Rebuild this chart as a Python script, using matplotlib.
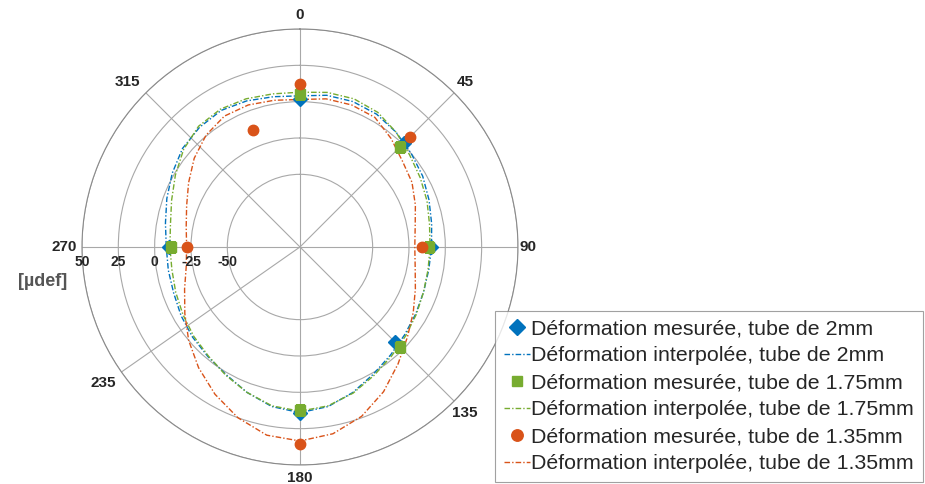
import matplotlib.pyplot as plt
import numpy as np

plt.rcParams['font.family'] = 'Liberation Sans'

# angles (deg, clockwise from top) where the interpolated curves were read
curve_ang = [0, 10, 20, 30, 40, 50, 60, 70, 80, 90, 100, 110,
             120, 130, 140, 150, 160, 170, 180, 190, 200, 210, 220, 230,
             240, 250, 260, 270, 280, 290, 300, 310, 320, 330, 340, 350]
interp_2mm = [4, 6, 6.5, 5.5, 3, 0, -2.5, -5.5, -8, -9.5, -10, -9.5,
              -8, -6, -3, 1, 6.5, 11.5, 14, 11.5, 6.5, 1.5, -1.5, -3.5,
              -5.5, -7.5, -8, -8, -6, -2.5, 1.5, 5.5, 7.5, 8.5, 7, 5]
interp_175 = [6.5, 8, 8.5, 7, 3, -1.5, -4.5, -7, -9.5, -10.5, -10.5, -9.5,
              -7.5, -5, -2, 2, 7, 11, 13, 11, 6.5, 2, -2, -4.5,
              -7, -9, -10.5, -10.5, -9.5, -6, -1, 4.5, 8.5, 9.5, 8.5, 7]
interp_135 = [1.5, 3.5, 4, 3, -2.5, -8, -11, -15.5, -19.5, -21, -19.5, -15.5,
              -10, -3.5, 5, 15, 24, 30.5, 33.5, 31.5, 25, 17, 8.5, 0,
              -8.5, -15.5, -20.5, -22, -20.5, -17, -11.5, -5, 0.5, 4, 4, 2.5]

# measured points
meas_ang_2mm = [0, 45, 90, 135, 180, 270]
meas_2mm = [2, 1, -10, -8, 14, -10]
meas_ang_175 = [0, 45, 90, 135, 180, 270]
meas_175 = [5.5, -2.5, -11, -3, 12, -11]
meas_ang_135 = [0, 45, 90, 180, 270, 338]
meas_135 = [12, 7, -16, 35.5, -22.5, -13]

theta_ticks = [0, 45, 90, 135, 180, 235, 270, 315]
theta_labels = ['0', '45', '90', '135', '180', '235', '270', '315']
r_ticks = [-50, -25, 0, 25, 50]

c_blue = '#0072BD'
c_green = '#77AC30'
c_orange = '#D95319'
dashdot = (0, (4, 1.5, 1, 1.5))

# label offsets (px) from the outer circle, as in the original figure
lab_off = {0: (0, 14), 45: (11, 11), 90: (10, 0), 135: (11, -12),
           180: (0, -13), 235: (-18, -11), 270: (-18, 0), 315: (-18, 11)}


def closed(ang, vals):
    a = np.deg2rad(np.append(ang, ang[0]))
    return a, np.append(vals, vals[0])


fig = plt.figure(figsize=(9.25, 4.84), dpi=100)
ax = fig.add_axes([0.0886, 0.0393, 0.4714, 0.9008], projection='polar')
ax.set_theta_zero_location('N')
ax.set_theta_direction(-1)
ax.set_ylim(-100, 50)

ax.plot(np.deg2rad(meas_ang_2mm), meas_2mm, 'D', color=c_blue, ms=7,
        label='Déformation mesurée, tube de 2mm', zorder=4)
ax.plot(*closed(curve_ang, interp_2mm), color=c_blue, lw=1, ls=dashdot,
        label='Déformation interpolée, tube de 2mm')
ax.plot(np.deg2rad(meas_ang_175), meas_175, 's', color=c_green, ms=6.5,
        label='Déformation mesurée, tube de 1.75mm', zorder=4)
ax.plot(*closed(curve_ang, interp_175), color=c_green, lw=1, ls=dashdot,
        label='Déformation interpolée, tube de 1.75mm')
ax.plot(np.deg2rad(meas_ang_135), meas_135, 'o', color=c_orange, ms=7.5,
        label='Déformation mesurée, tube de 1.35mm', zorder=4)
ax.plot(*closed(curve_ang, interp_135), color=c_orange, lw=1, ls=dashdot,
        label='Déformation interpolée, tube de 1.35mm')

ax.set_thetagrids(theta_ticks, [''] * len(theta_ticks))
ax.set_rticks(r_ticks)
ax.set_yticklabels([])
ax.grid(color='#a8a8a8', lw=0.8)
ax.spines['polar'].set_color('#8a8a8a')
ax.spines['polar'].set_linewidth(0.8)

for t, lab in zip(theta_ticks, theta_labels):
    dx, dy = lab_off[t]
    ax.annotate(lab, xy=(np.deg2rad(t), 50), xytext=(dx * 0.72, dy * 0.72),
                textcoords='offset points', ha='center', va='center',
                fontsize=11, fontweight='bold', color='#262626',
                annotation_clip=False)

for r in r_ticks:
    ax.annotate(str(r), xy=(np.deg2rad(270), r), xytext=(0, -10.5),
                textcoords='offset points', ha='center', va='center',
                fontsize=10, fontweight='bold', color='#262626')

fig.text(0.073, 0.419, '[µdef]', fontsize=13, fontweight='bold',
         color='#555555', ha='right', va='center')

leg = fig.legend(loc='lower left', bbox_to_anchor=(0.535, 0.004),
                 fontsize=15.4, frameon=True, fancybox=False,
                 labelspacing=0.37, handlelength=1.2, handletextpad=0.08,
                 borderpad=0.42, borderaxespad=0, markerscale=1.1)
leg.get_frame().set_edgecolor('#8a8a8a')
leg.get_frame().set_linewidth(0.8)
for t in leg.get_texts():
    t.set_color('#262626')

fig.savefig('out.png', dpi=100)
